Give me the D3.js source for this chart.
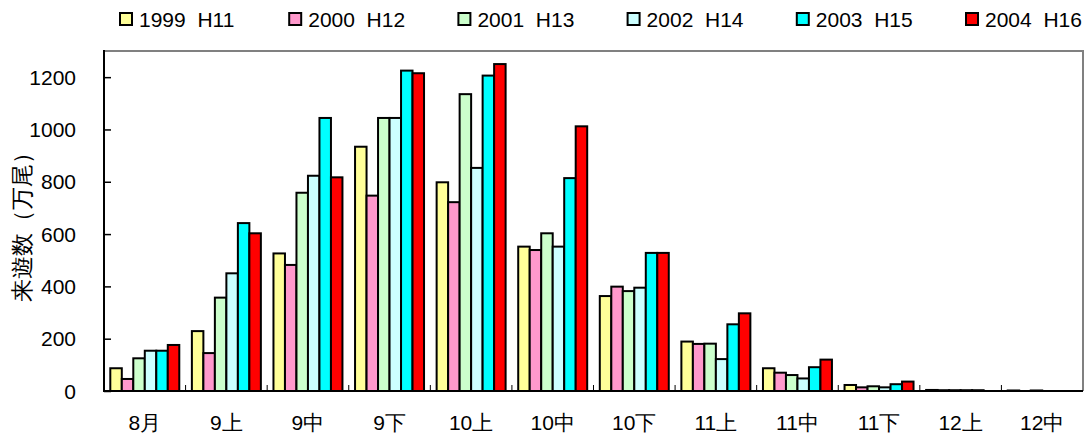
<!DOCTYPE html>
<html>
<head>
<meta charset="utf-8">
<script src="https://cdn.jsdelivr.net/npm/d3@7"></script>
<style>
  body { margin: 0; background: #fff; }
  svg text { font-family: "Liberation Sans", Arial, sans-serif; fill: #000; }
</style>
</head>
<body>
<div id="chart"></div>
<script>
// categories (periods) and series
const periods = ["8月", "9上", "9中", "9下", "10上", "10中", "10下", "11上", "11中", "11下", "12上", "12中"];
const seriesNames = ["1999  H11", "2000  H12", "2001  H13", "2002  H14", "2003  H15", "2004  H16"];
const seriesColors = ["#FFFF99", "#FF99CC", "#CCFFCC", "#CCFFFF", "#00FFFF", "#FF0000"];

const v1999 = [87, 229, 526, 934, 798, 552, 363, 189, 87, 23, 4, 2];
const v2000 = [46, 145, 482, 747, 722, 539, 399, 180, 70, 14, 3, 0];
const v2001 = [125, 357, 758, 1044, 1135, 603, 382, 181, 61, 18, 3, 2];
const v2002 = [154, 450, 823, 1044, 853, 552, 395, 122, 48, 14, 3, 0];
const v2003 = [154, 642, 1044, 1225, 1206, 814, 528, 255, 91, 26, 3, 0];
const v2004 = [176, 603, 817, 1215, 1250, 1012, 528, 297, 120, 36, 0, 0];
const seriesValues = [v1999, v2000, v2001, v2002, v2003, v2004];

const yTicks = [0, 200, 400, 600, 800, 1000, 1200];
const yLabel = "来遊数（万尾）";

const W = 1085, H = 439;
const plot = { left: 104, right: 1083, top: 51, bottom: 391 };

const svg = d3.select("#chart").append("svg")
  .attr("width", W).attr("height", H);

const x0 = d3.scaleBand().domain(periods).range([plot.left, plot.right]).padding(0);
const x1 = d3.scaleBand().domain(d3.range(seriesNames.length))
  .range([6.3, x0.bandwidth() - 6.3]).padding(0);
const y = d3.scaleLinear().domain([0, 1300]).range([plot.bottom, plot.top]);

// gray frame top + right
svg.append("path")
  .attr("d", `M${plot.left},${plot.top}H${plot.right}V${plot.bottom}`)
  .attr("fill", "none").attr("stroke", "#808080").attr("stroke-width", 2);

// bars
const groups = svg.append("g").attr("class", "bars")
  .selectAll("g")
  .data(periods)
  .join("g")
  .attr("transform", d => `translate(${x0(d)},0)`);

groups.selectAll("rect")
  .data((p, i) => seriesValues.map((vals, s) => ({ s, v: vals[i] })).filter(d => d.v > 0))
  .join("rect")
  .attr("x", d => x1(d.s))
  .attr("width", x1.bandwidth())
  .attr("y", d => y(d.v))
  .attr("height", d => y(0) - y(d.v))
  .attr("fill", d => seriesColors[d.s])
  .attr("stroke", "#000")
  .attr("stroke-width", 2);

// y axis (ticks point inward)
const yAxis = svg.append("g")
  .attr("transform", `translate(${plot.left},0)`)
  .call(d3.axisRight(y).tickValues(yTicks).tickSize(7).tickFormat(""));
yAxis.select(".domain").remove();
yAxis.selectAll("line").attr("stroke", "#000").attr("stroke-width", 1.5);
svg.append("line")
  .attr("x1", plot.left).attr("x2", plot.left)
  .attr("y1", plot.top - 1).attr("y2", plot.bottom + 1)
  .attr("stroke", "#000").attr("stroke-width", 2);

svg.append("g").selectAll("text")
  .data(yTicks)
  .join("text")
  .attr("x", 76)
  .attr("y", d => y(d))
  .attr("dy", "0.36em")
  .attr("text-anchor", "end")
  .attr("font-size", 21)
  .text(d => d);

// x axis
svg.append("line")
  .attr("x1", plot.left).attr("x2", plot.right)
  .attr("y1", plot.bottom).attr("y2", plot.bottom)
  .attr("stroke", "#000").attr("stroke-width", 2);

svg.append("g").selectAll("line")
  .data(periods.slice(1))
  .join("line")
  .attr("x1", d => x0(d)).attr("x2", d => x0(d))
  .attr("y1", plot.bottom).attr("y2", plot.bottom - 6)
  .attr("stroke", "#000").attr("stroke-width", 1);

svg.append("g").selectAll("text")
  .data(periods)
  .join("text")
  .attr("x", d => x0(d) + x0.bandwidth() / 2)
  .attr("y", 430)
  .attr("text-anchor", "middle")
  .attr("font-size", 21)
  .attr("font-family", "'Noto Sans CJK JP', 'Liberation Sans', sans-serif")
  .text(d => d);

// y label
svg.append("text")
  .attr("transform", `translate(22,${(plot.top + plot.bottom) / 2}) rotate(-90)`)
  .attr("text-anchor", "middle")
  .attr("dominant-baseline", "central")
  .attr("font-size", 23)
  .attr("font-family", "'Noto Sans CJK JP', sans-serif")
  .text(yLabel);

// legend
const legend = svg.append("g").selectAll("g")
  .data(seriesNames)
  .join("g")
  .attr("transform", (d, i) => `translate(${120 + i * 169.2},13)`);

legend.append("rect")
  .attr("width", 12).attr("height", 12)
  .attr("fill", (d, i) => seriesColors[i])
  .attr("stroke", "#000").attr("stroke-width", 2);

legend.append("text")
  .attr("x", 19).attr("y", 6)
  .attr("dy", "0.36em")
  .attr("font-size", 21)
  .style("white-space", "pre")
  .text(d => d);
</script>
</body>
</html>
